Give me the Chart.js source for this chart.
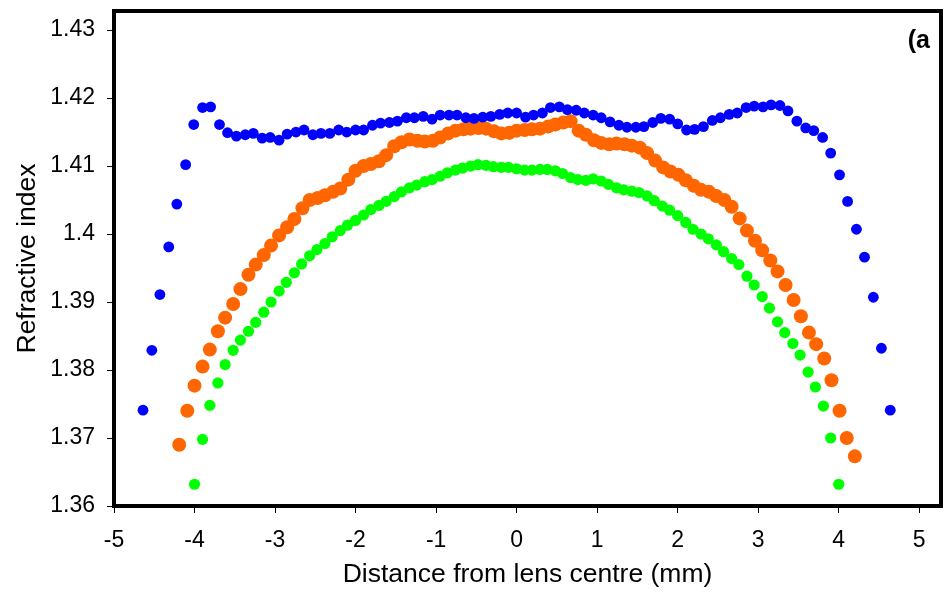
<!DOCTYPE html>
<html>
<head>
<meta charset="utf-8">
<title>Refractive index profile</title>
<script src="https://cdn.jsdelivr.net/npm/chart.js@4.4.1/dist/chart.umd.min.js"></script>
<style>
  body { margin: 0; background: #fff; }
  #wrap { width: 948px; height: 602px; }
</style>
</head>
<body>
<div id="wrap"><canvas id="lensChart" width="948" height="602"></canvas></div>
<script>
// * data (x in mm, y = refractive index) *
const blueX = [
  -4.64, -4.53, -4.43, -4.32, -4.22, -4.11, -4.01, -3.90, -3.80, -3.69,
  -3.59, -3.48, -3.37, -3.27, -3.16, -3.06, -2.95, -2.85, -2.74, -2.64,
  -2.53, -2.43, -2.32, -2.21, -2.11, -2.00, -1.90, -1.79, -1.69, -1.58,
  -1.48, -1.37, -1.27, -1.16, -1.05, -0.95, -0.84, -0.74, -0.63, -0.53,
  -0.42, -0.32, -0.21, -0.11, 0.00, 0.11, 0.21, 0.32, 0.42, 0.53,
  0.63, 0.74, 0.84, 0.95, 1.05, 1.16, 1.27, 1.37, 1.48, 1.58,
  1.69, 1.79, 1.90, 2.00, 2.11, 2.21, 2.32, 2.43, 2.53, 2.64,
  2.74, 2.85, 2.95, 3.06, 3.16, 3.27, 3.37, 3.48, 3.59, 3.69,
  3.80, 3.90, 4.01, 4.11, 4.22, 4.32, 4.43, 4.53, 4.64
];
const blueY = [
  1.3741, 1.3829, 1.3911, 1.3981, 1.4044, 1.4102, 1.4161, 1.4186, 1.4187, 1.4161,
  1.4149, 1.4144, 1.4146, 1.4148, 1.4141, 1.4142, 1.4138, 1.4147, 1.4150, 1.4153,
  1.4146, 1.4148, 1.4148, 1.4153, 1.4150, 1.4153, 1.4153, 1.4160, 1.4163, 1.4164,
  1.4166, 1.4171, 1.4171, 1.4173, 1.4169, 1.4175, 1.4175, 1.4175, 1.4171, 1.4170,
  1.4172, 1.4173, 1.4176, 1.4178, 1.4178, 1.4172, 1.4175, 1.4178, 1.4186, 1.4187,
  1.4183, 1.4182, 1.4178, 1.4175, 1.4171, 1.4165, 1.4160, 1.4157, 1.4157, 1.4158,
  1.4164, 1.4170, 1.4169, 1.4162, 1.4153, 1.4154, 1.4158, 1.4167, 1.4171, 1.4176,
  1.4178, 1.4186, 1.4188, 1.4187, 1.4190, 1.4189, 1.4181, 1.4166, 1.4156, 1.4152,
  1.4142, 1.4119, 1.4087, 1.4048, 1.4007, 1.3966, 1.3907, 1.3832, 1.3741
];

const orangeX = [
  -4.19, -4.09, -4.00, -3.90, -3.81, -3.71, -3.62, -3.52, -3.43, -3.33,
  -3.24, -3.14, -3.05, -2.95, -2.85, -2.76, -2.66, -2.57, -2.47, -2.38,
  -2.28, -2.19, -2.09, -2.00, -1.90, -1.81, -1.71, -1.62, -1.52, -1.43,
  -1.33, -1.23, -1.14, -1.04, -0.95, -0.85, -0.76, -0.66, -0.57, -0.47,
  -0.38, -0.28, -0.19, -0.09, 0.00, 0.10, 0.19, 0.29, 0.39, 0.48,
  0.58, 0.67, 0.77, 0.86, 0.96, 1.05, 1.15, 1.24, 1.34, 1.43,
  1.53, 1.62, 1.72, 1.82, 1.91, 2.01, 2.10, 2.20, 2.29, 2.39,
  2.48, 2.58, 2.67, 2.77, 2.86, 2.96, 3.05, 3.15, 3.24, 3.34,
  3.44, 3.53, 3.63, 3.72, 3.82, 3.91, 4.01, 4.10, 4.20
];
const orangeY = [
  1.3690, 1.3740, 1.3777, 1.3805, 1.3830, 1.3857, 1.3877, 1.3897, 1.3919, 1.3940,
  1.3955, 1.3969, 1.3983, 1.3998, 1.4010, 1.4022, 1.4038, 1.4050, 1.4053, 1.4057,
  1.4062, 1.4067, 1.4080, 1.4093, 1.4100, 1.4103, 1.4107, 1.4116, 1.4129, 1.4135,
  1.4139, 1.4137, 1.4136, 1.4137, 1.4142, 1.4148, 1.4152, 1.4154, 1.4155, 1.4156,
  1.4155, 1.4151, 1.4148, 1.4149, 1.4152, 1.4153, 1.4154, 1.4155, 1.4158, 1.4161,
  1.4164, 1.4166, 1.4152, 1.4146, 1.4138, 1.4134, 1.4132, 1.4133, 1.4132, 1.4130,
  1.4127, 1.4119, 1.4108, 1.4098, 1.4092, 1.4087, 1.4079, 1.4071, 1.4065, 1.4062,
  1.4056, 1.4050, 1.4040, 1.4023, 1.4005, 1.3990, 1.3976, 1.3961, 1.3945, 1.3925,
  1.3903, 1.3879, 1.3855, 1.3838, 1.3817, 1.3785, 1.3740, 1.3700, 1.3673
];

const greenX = [
  -4.00, -3.90, -3.81, -3.71, -3.62, -3.52, -3.43, -3.33, -3.24, -3.14,
  -3.05, -2.95, -2.86, -2.76, -2.67, -2.57, -2.48, -2.38, -2.29, -2.19,
  -2.10, -2.00, -1.90, -1.81, -1.71, -1.62, -1.52, -1.43, -1.33, -1.24,
  -1.14, -1.05, -0.95, -0.86, -0.76, -0.67, -0.57, -0.48, -0.38, -0.29,
  -0.19, -0.10, 0.00, 0.10, 0.19, 0.29, 0.38, 0.48, 0.57, 0.67,
  0.76, 0.86, 0.95, 1.05, 1.14, 1.24, 1.33, 1.43, 1.52, 1.62,
  1.71, 1.81, 1.90, 2.00, 2.10, 2.19, 2.29, 2.38, 2.48, 2.57,
  2.67, 2.76, 2.86, 2.95, 3.05, 3.14, 3.24, 3.33, 3.43, 3.52,
  3.62, 3.71, 3.81, 3.90, 4.00
];
const greenY = [
  1.3632, 1.3698, 1.3748, 1.3781, 1.3808, 1.3829, 1.3844, 1.3857, 1.3870, 1.3885,
  1.3900, 1.3916, 1.3929, 1.3943, 1.3956, 1.3968, 1.3977, 1.3986, 1.3996, 1.4005,
  1.4013, 1.4020, 1.4028, 1.4036, 1.4042, 1.4048, 1.4055, 1.4062, 1.4068, 1.4072,
  1.4077, 1.4080, 1.4085, 1.4090, 1.4094, 1.4097, 1.4100, 1.4102, 1.4101, 1.4099,
  1.4098, 1.4098, 1.4096, 1.4094, 1.4094, 1.4095, 1.4095, 1.4093, 1.4089, 1.4083,
  1.4080, 1.4079, 1.4081, 1.4078, 1.4073, 1.4068, 1.4065, 1.4063, 1.4061, 1.4056,
  1.4049, 1.4041, 1.4035, 1.4027, 1.4017, 1.4007, 1.4000, 1.3993, 1.3984, 1.3974,
  1.3964, 1.3955, 1.3938, 1.3925, 1.3908, 1.3891, 1.3871, 1.3855, 1.3839, 1.3822,
  1.3797, 1.3775, 1.3747, 1.3700, 1.3632
];

// * tick labels *
const xTicks = [-5, -4, -3, -2, -1, 0, 1, 2, 3, 4, 5];
const yTicks = [1.36, 1.37, 1.38, 1.39, 1.4, 1.41, 1.42, 1.43];

const panelLabel = "(a";
const fontFamily = "'Liberation Sans', Arial, sans-serif";

const toPoints = (xs, ys) => xs.map((x, i) => ({ x: x, y: ys[i] }));

// * frame round the plot area and the panel letter *
const framePlugin = {
  id: "frame",
  afterDraw(chart) {
    const { ctx, chartArea } = chart;
    ctx.save();
    ctx.strokeStyle = "#000";
    ctx.lineWidth = 4;
    ctx.strokeRect(chartArea.left, chartArea.top,
      chartArea.right - chartArea.left, chartArea.bottom - chartArea.top);
    ctx.fillStyle = "#000";
    ctx.font = "bold 25px " + fontFamily;
    ctx.textAlign = "right";
    ctx.textBaseline = "alphabetic";
    ctx.fillText(panelLabel, chartArea.right - 11, chartArea.top + 37);
    ctx.restore();
  }
};

const tickGrid = { drawOnChartArea: false, drawTicks: true, tickLength: 7, color: "#000", lineWidth: 1 };

new Chart(document.getElementById("lensChart"), {
  type: "scatter",
  data: {
    datasets: [
      { label: "blue", data: toPoints(blueX, blueY), backgroundColor: "#0000ff", borderWidth: 0, pointRadius: 5.4 },
      { label: "orange", data: toPoints(orangeX, orangeY), backgroundColor: "#ff6600", borderWidth: 0, pointRadius: 7 },
      { label: "green", data: toPoints(greenX, greenY), backgroundColor: "#00ff00", borderWidth: 0, pointRadius: 5.6 }
    ]
  },
  options: {
    responsive: false,
    animation: false,
    layout: { padding: { top: 11, right: 3, left: 0, bottom: 0 } },
    plugins: { legend: { display: false }, tooltip: { enabled: false } },
    scales: {
      x: {
        type: "linear",
        min: -5,
        max: 5.27,
        afterBuildTicks: s => { s.ticks = xTicks.map(v => ({ value: v })); },
        afterFit: s => { s.height = 96; s.paddingLeft = 0; s.paddingRight = 0; },
        grid: tickGrid,
        border: { display: false },
        ticks: {
          color: "#000", font: { family: fontFamily, size: 23 }, padding: 14,
          maxRotation: 0, autoSkip: false, callback: v => String(v)
        },
        title: {
          display: true, text: "Distance from lens centre (mm)", color: "#000",
          font: { family: fontFamily, size: 26.5 }, padding: { top: 0, bottom: 11 }
        }
      },
      y: {
        type: "linear",
        min: 1.36,
        max: 1.4328,
        afterBuildTicks: s => { s.ticks = yTicks.map(v => ({ value: v })); },
        afterFit: s => { s.width = 114; s.paddingTop = 0; s.paddingBottom = 0; },
        grid: tickGrid,
        border: { display: false },
        ticks: {
          color: "#000", font: { family: fontFamily, size: 23 }, padding: 12,
          autoSkip: false, callback: v => String(v)
        },
        title: {
          display: true, text: "Refractive index", color: "#000",
          font: { family: fontFamily, size: 26.5 }, padding: { top: 12, bottom: 0 }
        }
      }
    }
  },
  plugins: [framePlugin]
});
</script>
</body>
</html>
